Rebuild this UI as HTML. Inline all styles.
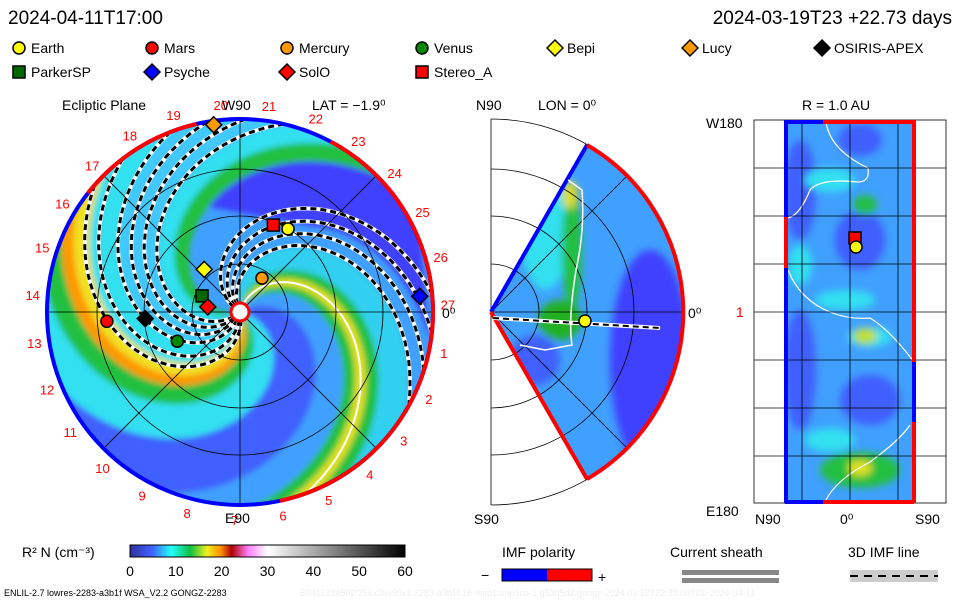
<!DOCTYPE html>
<html><head><meta charset="utf-8"><style>
body{margin:0;background:#fff;width:960px;height:600px;overflow:hidden;font-family:"Liberation Sans",sans-serif}
svg text{font-family:"Liberation Sans",sans-serif}
</style></head><body>
<svg id="s" width="960" height="600" xmlns="http://www.w3.org/2000/svg">
<defs>
<clipPath id="cc"><circle cx="240" cy="312" r="193"/></clipPath>
<clipPath id="wc"><path d="M491,312 L587,145 A193,193 0 0 1 587,479 Z"/></clipPath>
<clipPath id="rc"><rect x="785" y="120" width="129" height="383"/></clipPath>
<filter id="bl"><feGaussianBlur stdDeviation="3"/></filter>
<filter id="bl2"><feGaussianBlur stdDeviation="4"/></filter>
<linearGradient id="cb" x1="0" x2="1">
<stop offset="0" stop-color="#3030a0"/><stop offset="0.08" stop-color="#4060ff"/><stop offset="0.15" stop-color="#20ffff"/><stop offset="0.22" stop-color="#10c040"/><stop offset="0.28" stop-color="#f0f020"/><stop offset="0.33" stop-color="#ff9000"/><stop offset="0.37" stop-color="#b00000"/><stop offset="0.43" stop-color="#ff80ff"/><stop offset="0.5" stop-color="#ffffff"/><stop offset="1" stop-color="#000000"/>
</linearGradient>
</defs>
<text x="8" y="24" font-size="19">2024-04-11T17:00</text>
<text x="952" y="24" font-size="19" text-anchor="end">2024-03-19T23 +22.73 days</text>
<g id="legend"></g>
<g id="ecl"></g>
<g id="mer"></g>
<g id="rpl"></g>
<text x="62" y="110" font-size="14">Ecliptic Plane</text>
<text x="222" y="110" font-size="14">W90</text>
<text x="312" y="110" font-size="14">LAT = −1.9⁰</text>
<text x="225" y="523" font-size="14">E90</text>
<text x="442" y="318" font-size="14">0⁰</text>
<text x="476" y="110" font-size="14">N90</text>
<text x="538" y="110" font-size="14">LON = 0⁰</text>
<text x="474" y="524" font-size="14">S90</text>
<text x="688" y="318" font-size="14">0⁰</text>
<text x="802" y="110" font-size="14">R = 1.0 AU</text>
<text x="706" y="128" font-size="14">W180</text>
<text x="706" y="516" font-size="14">E180</text>
<text x="736" y="317" font-size="14" fill="#ff0000">1</text>
<text x="755" y="524" font-size="14">N90</text>
<text x="840" y="524" font-size="14">0⁰</text>
<text x="915" y="524" font-size="14">S90</text>
<text x="22" y="557" font-size="14">R² N (cm⁻³)</text>
<rect x="130" y="545" width="275" height="12" fill="url(#cb)" stroke="#000"/>
<g id="cbt"></g>
<text x="502" y="557" font-size="14">IMF polarity</text>
<text x="481" y="580" font-size="14">−</text>
<rect x="502" y="569" width="45" height="12" fill="#0000ff"/>
<rect x="547" y="569" width="45" height="12" fill="#ff0000"/>
<rect x="502" y="569" width="90" height="12" fill="none" stroke="#000"/>
<text x="598" y="582" font-size="14">+</text>
<text x="670" y="557" font-size="14">Current sheath</text>
<rect x="682" y="570" width="97" height="5" fill="#888"/>
<rect x="682" y="578" width="97" height="5" fill="#888"/>
<text x="848" y="557" font-size="14">3D IMF line</text>
<rect x="850" y="570" width="88" height="12" fill="#ccc"/>
<line x1="850" y1="576" x2="938" y2="576" stroke="#000" stroke-width="2" stroke-dasharray="8,6"/>
<text x="4" y="596" font-size="9">ENLIL-2.7 lowres-2283-a3b1f WSA_V2.2 GONGZ-2283</text>
<text x="300" y="596" font-size="9" fill="#eee">E0411214502/256x30x90x1.2283-a3b1f.16-mcp1umn1cd-1.g53q5d2.gongz-2024:03:12T22:39:00TC0   2024-04-11</text>
</svg>
<script>
const bodyNames=["Earth","Mars","Mercury","Venus","Bepi","Lucy","OSIRIS-APEX","ParkerSP","Psyche","SolO","Stereo_A"];
const bodyColors=["#ffff00","#ff0000","#ff9900","#008800","#ffff00","#ff9900","#000000","#006600","#0000ff","#ff0000","#ff0000"];
const bodyShapes=["c","c","c","c","d","d","d","s","d","d","s"];
const bodyAngle=[-60,176,-57,155,-130,-98,176,-157,-5,-171,-69];
const bodyR=[1.0,1.39,0.42,0.72,0.58,1.97,0.99,0.43,1.88,0.34,0.97];
const cbTicks=[0,10,20,30,40,50,60];
const carrLabels=[1,2,3,4,5,6,7,8,9,10,11,12,13,14,15,16,17,18,19,20,21,22,23,24,25,26,27];
// density bands by edge longitude (deg, screen) : start, end, colour, inner radius (px)
const bandStart=[-45,-60,-75,-110,-135,-148,-158,-175,-205,-250,-275,-285,-295,-305,-330];
const bandEnd=[10,-45,-60,-75,-110,-135,-148,-158,-175,-205,-250,-275,-285,-295,-305];
const bandColor=["#3f40ff","#20c040","#30e0f0","#40c8ff","#30e0f0","#f0e020","#ff9900","#20c040","#30e0f0","#4060ff","#40a0ff","#20c040","#e0e020","#20c040","#30d0f0"];
const bandInner=[110,0,0,0,0,0,0,0,0,0,0,0,0,0,0];
const dashedPhases=[-2.0,-2.2,-2.4,-2.6,-3.85,-4.05,-4.25,-4.45,1.35,1.55];
const NS='http://www.w3.org/2000/svg';
function mk(p,t,a){const e=document.createElementNS(NS,t);for(const k in a)e.setAttribute(k,a[k]);p.appendChild(e);return e;}
const cx=240,cy=312,R=193,AU=96,K=0.013;
function pts(ph,r0){const a=[];for(let r=r0||0;r<=R+20;r+=4){const t=ph+K*r;a.push((cx+r*Math.cos(t)).toFixed(1)+','+(cy+r*Math.sin(t)).toFixed(1));}return a;}
function spiral(ph){return 'M'+pts(ph,8).join('L');}
const L=document.getElementById('legend');
bodyNames.forEach((n,i)=>{const col=i<7?i:i-7,row=i<7?0:1;const xs=[12,145,280,415,548,683,815];const x=xs[col]+7,y=48+row*24;
 const g=mk(L,'g',{});
 shape(g,bodyShapes[i],x,y,bodyColors[i]);const t=mk(g,'text',{x:x+12,y:y+5,'font-size':14});t.textContent=n;});
function shape(g,s,x,y,c){if(s=='c')return mk(g,'circle',{cx:x,cy:y,r:6,fill:c,stroke:'#000','stroke-width':1.5});
 if(s=='s')return mk(g,'rect',{x:x-6,y:y-6,width:12,height:12,fill:c,stroke:'#000','stroke-width':1.5});
 return mk(g,'path',{d:`M${x},${y-8}L${x+8},${y}L${x},${y+8}L${x-8},${y}Z`,fill:c,stroke:'#000','stroke-width':1.5});}
const E=document.getElementById('ecl');
const cl=mk(E,'g',{'clip-path':'url(#cc)'});
mk(cl,'circle',{cx,cy,r:R,fill:'#40a0ff'});
const bg=mk(cl,'g',{filter:'url(#bl)'});
const off=K*R;
bandStart.forEach((s,i)=>{const p0=s*Math.PI/180-off,p1=bandEnd[i]*Math.PI/180-off;
 const a=pts(p0,bandInner[i]),b=pts(p1,bandInner[i]).reverse();
 const e=mk(bg,'path',{d:'M'+a.join('L')+'L'+b.join('L')+'Z',fill:bandColor[i]});
 
 });
mk(cl,'path',{d:spiral(70*Math.PI/180-off),fill:'none',stroke:'#fff','stroke-width':2});
mk(cl,'path',{d:spiral(-100*Math.PI/180-off),fill:'none',stroke:'#fff','stroke-width':2});
dashedPhases.forEach(p=>{mk(cl,'path',{d:spiral(p),fill:'none',stroke:'#fff','stroke-width':4});const e=mk(cl,'path',{d:spiral(p),fill:'none',stroke:'#000','stroke-width':3,'stroke-dasharray':'6,4'});});
[48,96,143].forEach(r=>mk(E,'circle',{cx,cy,r,fill:'none',stroke:'#000','stroke-width':0.8}));
mk(E,'line',{x1:cx-R,y1:cy,x2:cx+R,y2:cy,stroke:'#000','stroke-width':0.8});
mk(E,'line',{x1:cx,y1:cy-R,x2:cx,y2:cy+R,stroke:'#000','stroke-width':0.8});
const q=R*0.707;mk(E,'line',{x1:cx-q,y1:cy-q,x2:cx+q,y2:cy+q,stroke:'#000','stroke-width':0.8});mk(E,'line',{x1:cx-q,y1:cy+q,x2:cx+q,y2:cy-q,stroke:'#000','stroke-width':0.8});
mk(E,'circle',{cx,cy,r:R,fill:'none',stroke:'#0000ff','stroke-width':4});
const reds=[[-142,-103],[-62,78]];
reds.forEach(([a0,a1])=>{const r0=a0*Math.PI/180,r1=a1*Math.PI/180;mk(E,'path',{d:`M${cx+R*Math.cos(r0)},${cy+R*Math.sin(r0)}A${R},${R} 0 ${a1-a0>180?1:0} 1 ${cx+R*Math.cos(r1)},${cy+R*Math.sin(r1)}`,fill:'none',stroke:'#ff0000','stroke-width':4});});
mk(E,'circle',{cx,cy,r:9,fill:'#fff',stroke:'#ff0000','stroke-width':3});
carrLabels.forEach(n=>{const ang=((n-27)*13.33-2)*Math.PI/180;const rr=R+15;
 const t=mk(E,'text',{x:cx+rr*Math.cos(ang),y:cy+rr*Math.sin(ang)+5,'font-size':13,fill:'#ff0000','text-anchor':'middle'});t.textContent=n;});
bodyNames.forEach((n,i)=>{const a=bodyAngle[i]*Math.PI/180,r=bodyR[i]*AU;const g=mk(E,'g',{});shape(g,bodyShapes[i],cx+r*Math.cos(a),cy+r*Math.sin(a),bodyColors[i]);});
// meridional
const M=document.getElementById('mer');const mc=mk(M,'g',{'clip-path':'url(#wc)'});
mk(mc,'rect',{x:488,y:140,width:210,height:345,fill:'#40a0ff'});
const mb=mk(mc,'g',{filter:'url(#bl2)'});
mk(mb,'ellipse',{cx:650,cy:360,rx:40,ry:110,fill:'#3f3fff'});
mk(mb,'ellipse',{cx:545,cy:230,rx:25,ry:60,fill:'#30e0f0'});
mk(mb,'ellipse',{cx:572,cy:250,rx:10,ry:60,fill:'#20c040'});
mk(mb,'ellipse',{cx:570,cy:195,rx:8,ry:14,fill:'#dddd20'});
mk(mb,'ellipse',{cx:560,cy:320,rx:22,ry:20,fill:'#20b020'});
mk(mb,'ellipse',{cx:535,cy:360,rx:25,ry:25,fill:'#3f60ff'});
[48,96,143,193].forEach(r=>mk(M,'path',{d:`M491,${312-r} A${r},${r} 0 0 1 491,${312+r}`,fill:'none',stroke:'#000','stroke-width':0.8}));
mk(M,'line',{x1:491,y1:119,x2:491,y2:505,stroke:'#000','stroke-width':0.8});
mk(M,'line',{x1:491,y1:312,x2:684,y2:312,stroke:'#000','stroke-width':0.8});
mk(M,'line',{x1:491,y1:312,x2:627,y2:176,stroke:'#000','stroke-width':0.8});
mk(M,'line',{x1:491,y1:312,x2:627,y2:448,stroke:'#000','stroke-width':0.8});
mk(M,'line',{x1:491,y1:312,x2:587,y2:145,stroke:'#0000ff','stroke-width':4});
mk(M,'line',{x1:491,y1:312,x2:587,y2:479,stroke:'#ff0000','stroke-width':4});
mk(M,'path',{d:'M587,145 A193,193 0 0 1 587,479',fill:'none',stroke:'#ff0000','stroke-width':4});
mk(M,'path',{d:'M568,180 L582,190 Q585,230 576,270 Q568,320 572,345 L545,350 L520,345',fill:'none',stroke:'#fff','stroke-width':1.5});
mk(M,'line',{x1:493,y1:318,x2:660,y2:328,stroke:'#fff','stroke-width':4});
mk(M,'line',{x1:493,y1:318,x2:660,y2:328,stroke:'#000','stroke-width':2,'stroke-dasharray':'6,4'});
shape(M,'c',585,321,'#ffff00');
// right panel
const P=document.getElementById('rpl');const rc=mk(P,'g',{'clip-path':'url(#rc)'});
mk(rc,'rect',{x:785,y:120,width:129,height:383,fill:'#40a0ff'});
const rb=mk(rc,'g',{filter:'url(#bl2)'});
[[800,190,16,50,'#3f5fff'],[860,140,22,16,'#3f5fff'],[860,240,25,30,'#3f5fff'],[800,370,16,60,'#3f5fff'],[870,400,30,25,'#3f5fff'],[830,180,25,12,'#30e0f0'],[865,205,12,10,'#20c040'],[800,265,12,20,'#30e0f0'],[845,300,30,10,'#30e0f0'],[870,337,22,10,'#30e0f0'],[865,336,12,8,'#c0e020'],[860,470,40,18,'#20c040'],[860,468,12,8,'#e0e020'],[830,440,25,12,'#30e0f0']].forEach(a=>mk(rb,'ellipse',{cx:a[0],cy:a[1],rx:a[2],ry:a[3],fill:a[4]}));
mk(rc,'path',{d:'M826,122 Q830,150 868,168 Q870,182 858,182 Q820,178 810,190 Q800,215 788,218',fill:'none',stroke:'#fff','stroke-width':1.2});
mk(rc,'path',{d:'M788,270 Q800,300 830,312 Q850,320 870,318 Q890,330 914,362',fill:'none',stroke:'#fff','stroke-width':1.2});
mk(rc,'path',{d:'M825,502 Q835,480 870,462 Q900,440 910,425',fill:'none',stroke:'#fff','stroke-width':1.2});
for(let k=1;k<8;k++)mk(P,'line',{x1:754,y1:120+k*48,x2:946,y2:120+k*48,stroke:'#000','stroke-width':0.8});
mk(P,'rect',{x:754,y:120,width:192,height:383,fill:'none',stroke:'#000','stroke-width':0.8});
[802,850,898].forEach(x=>mk(P,'line',{x1:x,y1:120,x2:x,y2:503,stroke:'#000','stroke-width':0.8}));
mk(P,'line',{x1:785,y1:122,x2:823,y2:122,stroke:'#0000ff','stroke-width':4});
mk(P,'line',{x1:823,y1:122,x2:914,y2:122,stroke:'#ff0000','stroke-width':4});
mk(P,'line',{x1:785,y1:502,x2:823,y2:502,stroke:'#0000ff','stroke-width':4});
mk(P,'line',{x1:823,y1:502,x2:914,y2:502,stroke:'#ff0000','stroke-width':4});
mk(P,'line',{x1:914,y1:120,x2:914,y2:503,stroke:'#ff0000','stroke-width':4});
mk(P,'line',{x1:914,y1:362,x2:914,y2:422,stroke:'#0000ff','stroke-width':4});
mk(P,'line',{x1:786,y1:120,x2:786,y2:503,stroke:'#0000ff','stroke-width':4});
mk(P,'line',{x1:786,y1:217,x2:786,y2:268,stroke:'#ff0000','stroke-width':4});
shape(P,'s',855,238,'#ff0000');shape(P,'c',856,247,'#ffff00');
const C=document.getElementById('cbt');cbTicks.forEach(v=>{const x=130+v/60*275;const t=mk(C,'text',{x,y:576,'font-size':14,'text-anchor':'middle'});t.textContent=v;});
</script>
</body></html>
